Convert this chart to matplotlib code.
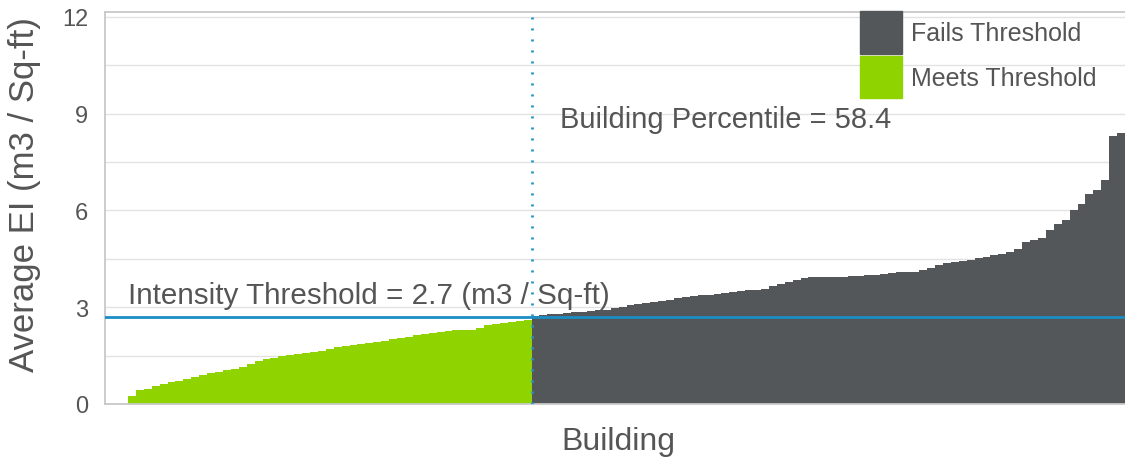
import matplotlib
matplotlib.use("Agg")
import matplotlib.pyplot as plt
from matplotlib.patches import Patch
import numpy as np

plt.rcParams['font.family'] = ['Liberation Sans', 'DejaVu Sans']

# building EI values, sorted
meets = [0.25, 0.42, 0.48, 0.55, 0.62, 0.68, 0.72, 0.78, 0.84, 0.90,
         0.95, 1.00, 1.04, 1.08, 1.15, 1.25, 1.33, 1.38, 1.43, 1.48,
         1.51, 1.55, 1.58, 1.61, 1.64, 1.72, 1.78, 1.81, 1.84, 1.87,
         1.90, 1.93, 1.96, 2.00, 2.04, 2.08, 2.13, 2.17, 2.21, 2.24,
         2.26, 2.28, 2.29, 2.30, 2.36, 2.44, 2.49, 2.52, 2.55, 2.57,
         2.60]
fails = [2.72, 2.75, 2.78, 2.80, 2.82, 2.84, 2.85, 2.87, 2.90, 2.93,
         2.97, 3.02, 3.06, 3.10, 3.13, 3.16, 3.20, 3.24, 3.28, 3.31,
         3.34, 3.37, 3.39, 3.41, 3.43, 3.46, 3.49, 3.52, 3.55, 3.58,
         3.66, 3.72, 3.78, 3.84, 3.90, 3.93, 3.94, 3.94, 3.95, 3.95,
         3.96, 3.97, 3.99, 4.01, 4.04, 4.06, 4.08, 4.09, 4.10, 4.14,
         4.22, 4.32, 4.37, 4.41, 4.44, 4.47, 4.52, 4.56, 4.61, 4.65,
         4.72, 4.80, 5.02, 5.08, 5.15, 5.40, 5.58, 5.72, 6.00, 6.20,
         6.50, 6.62, 6.95, 8.30, 8.40]
threshold = 2.7
percentile = 58.4

green = '#8fd400'
grey = '#54575a'
blue = '#1b8cc4'
text_c = '#555555'

W, H = 1125, 460
fig = plt.figure(figsize=(W / 100, H / 100), dpi=100)
ax = fig.add_axes([105 / W, 1 - 405 / H, 1 - 105 / W, (405 - 12.5) / H])

n_m = len(meets)
n_f = len(fails)
n = n_m + n_f
xm = np.arange(n_m)
xf = np.arange(n_m, n)

ax.bar(xm, meets, width=1.0, color=green, linewidth=0, antialiased=False,
       label='Meets Threshold', zorder=2)
ax.bar(xf, fails, width=1.0, color=grey, linewidth=0, antialiased=False,
       label='Fails Threshold', zorder=2)

ppu = (W - 128) / n
ax.set_xlim(-0.5 - 23 / ppu, n - 0.5)
ax.set_ylim(0, 12.17)

ax.axhline(threshold, color=blue, lw=2, zorder=3)
split = n_m - 0.5
ax.axvline(split, color='#2596c8', lw=2, ls=(0, (0.75, 3.21)), zorder=3)

ax.text(-0.5, 3.38, 'Intensity Threshold = %.1f (m3 / Sq-ft)' % threshold,
        fontsize=21.3, color=text_c, ha='left', va='center', zorder=4)
ax.text(split + 28 / ppu, 8.84, 'Building Percentile = %.1f' % percentile,
        fontsize=21, color=text_c, ha='left', va='center', zorder=4)

ax.set_yticks([0, 3, 6, 9, 12])
ax.set_yticks(np.arange(1.5, 12, 3), minor=True)
ax.grid(axis='y', which='both', color='#e2e2e2', lw=1, zorder=0)
ax.tick_params(axis='y', which='both', length=0, labelsize=17, labelcolor=text_c, pad=12)
ax.set_xticks([])
ax.spines['right'].set_visible(False)
for s in ['left', 'bottom', 'top']:
    ax.spines[s].set_color('#c8c8c8')
    ax.spines[s].set_linewidth(1.3)

ax.set_ylabel('Average EI (m3 / Sq-ft)', fontsize=25, color=text_c)
ax.yaxis.set_label_coords(-0.063, 0.535)
ax.set_xlabel('Building', fontsize=23, color=text_c)
ax.xaxis.set_label_coords(0.503, -0.055)

handles = [Patch(color=grey, label='Fails Threshold'),
           Patch(color=green, label='Meets Threshold')]
ax.legend(handles=handles, loc='upper left', bbox_to_anchor=(860 / W, 1 - 12 / H),
          bbox_transform=fig.transFigure, frameon=False, fontsize=18,
          handlelength=1.68, handleheight=2.25, labelspacing=0.08, handletextpad=0.35,
          labelcolor=text_c, borderaxespad=0, borderpad=0)

fig.savefig('out.png', dpi=100)
